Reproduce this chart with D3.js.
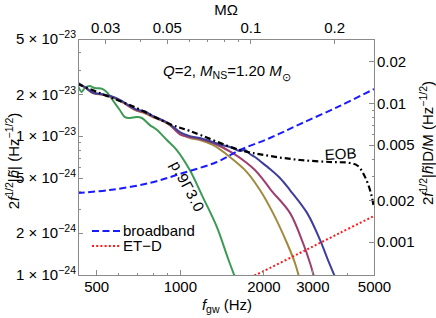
<!DOCTYPE html>
<html lang="en">
<head>
<meta charset="utf-8">
<title>NR vs EOB amplitude</title>
<script src="https://cdn.jsdelivr.net/npm/d3@7"></script>
<style>
  body { margin: 0; background: #fff; }
  svg text { font-family: "Liberation Sans", Arial, sans-serif; font-size: 15px; fill: #000; }
  .axis path, .axis line { stroke: #8a8a8a; fill: none; shape-rendering: crispEdges; }
  .axis text { font-size: 15px; }
</style>
</head>
<body>
<script>
// data: [frequency (Hz), 2 f^1/2 |h| (Hz^-1/2)]
var green = [[429,2.33e-23],[443,2.08e-23],[455,2.22e-23],[474,2.29e-23],[494,2.22e-23],[528,2.18e-23],
  [550,2.04e-23],[573,1.82e-23],[608,1.54e-23],[634,1.37e-23],[660,1.35e-23],[700,1.37e-23],[730,1.35e-23],
  [780,1.20e-23],[826,1.11e-23],[898,9.37e-24],[975,7.94e-24],[1086,5.70e-24],[1210,3.64e-24],[1359,2.22e-24],
  [1490,1.32e-24],[1578,0.97e-24]];
var gold = [[429,2.41e-23],[458,2.22e-23],[486,2.04e-23],[528,1.98e-23],[569,1.91e-23],[618,1.76e-23],
  [660,1.62e-23],[700,1.52e-23],[748,1.46e-23],[799,1.37e-23],[868,1.28e-23],[920,1.20e-23],[1000,1.05e-23],
  [1086,9.69e-24],[1181,9.37e-24],[1315,8.63e-24],[1514,7.07e-24],[1743,5.51e-24],[1943,4.09e-24],
  [2163,2.80e-24],[2430,1.70e-24],[2597,1.22e-24],[2685,0.97e-24]];
var magenta = [[429,2.42e-23],[458,2.23e-23],[486,2.05e-23],[528,1.99e-23],[569,1.92e-23],[618,1.78e-23],
  [660,1.63e-23],[700,1.53e-23],[748,1.48e-23],[799,1.38e-23],[868,1.29e-23],[920,1.21e-23],[1000,1.03e-23],
  [1086,9.85e-24],[1181,9.53e-24],[1315,8.92e-24],[1552,7.55e-24],[1743,6.40e-24],[1863,5.70e-24],
  [1975,4.99e-24],[2128,4.09e-24],[2491,2.80e-24],[2775,1.70e-24],[2942,1.22e-24],[3041,0.97e-24]];
var navy = [[429,2.42e-23],[458,2.23e-23],[486,2.06e-23],[528,2.00e-23],[569,1.93e-23],[618,1.79e-23],
  [660,1.65e-23],[700,1.55e-23],[748,1.51e-23],[799,1.40e-23],[868,1.30e-23],[920,1.22e-23],[1000,1.07e-23],
  [1086,1.00e-23],[1181,9.69e-24],[1282,9.22e-24],[1417,8.63e-24],[1514,8.35e-24],[1578,8.07e-24],
  [1645,7.81e-24],[1715,7.94e-24],[1788,7.43e-24],[1863,7.07e-24],[1943,6.62e-24],[2111,5.80e-24],
  [2293,4.99e-24],[2491,4.09e-24],[2870,2.80e-24],[3196,1.79e-24],[3415,1.28e-24],[3619,0.97e-24]];
var eob = [[429,2.37e-23],[515,2.04e-23],[700,1.59e-23],[920,1.22e-23],[1086,1.09e-23],[1645,7.94e-24],
  [2111,7.19e-24],[2707,6.73e-24],[3472,6.51e-24],[4100,6.40e-24],[4379,6.09e-24],[4604,5.25e-24],
  [4799,4.30e-24],[4920,3.58e-24],[5000,3.04e-24]];
var broadband = [[429,3.89e-24],[559,4.09e-24],[780,4.60e-24],[1025,5.42e-24],[1359,6.51e-24],[1645,7.94e-24],
  [2111,9.69e-24],[2707,1.22e-23],[3772,1.65e-23],[5000,2.18e-23]];
var etd = [[1800,0.96e-24],[2707,1.44e-24],[3772,2.01e-24],[5000,2.66e-24]];

var nrCurves = [green, gold, magenta, navy];
var nrColors = ["#3d9a55", "#a08a3c", "#9c3f6f", "#3e3e9a"];

var bottomTicks = [500, 1000, 2000, 3000, 5000];
var bottomMinor = [600, 700, 800, 900, 4000];
var topTicks = [0.03, 0.05, 0.1, 0.2];
var topMinor = [0.04, 0.06, 0.07, 0.08, 0.09];
var leftTicks = [1e-24, 2e-24, 5e-24, 1e-23, 2e-23, 5e-23];
var leftMant = ["1", "2", "5", "1", "2", "5"];
var leftExp = ["\u221224", "\u221224", "\u221224", "\u221223", "\u221223", "\u221223"];
var leftMinor = [3e-24, 4e-24, 6e-24, 7e-24, 8e-24, 9e-24, 3e-23, 4e-23];
var rightTicks = [0.001, 0.002, 0.005, 0.01, 0.02];
var rightMinor = [0.003, 0.004, 0.006, 0.007, 0.008, 0.009];

var mOmegaPerHz = 5.57e-5;   // pi*M, M = 3.6 Msun
var dOverM = 5.8e20;         // D/M

var w = 436, h = 318;
var pLeft = 78, pRight = 374, pTop = 39, pBottom = 275;

var x = d3.scaleLog().domain([430, 5000]).range([pLeft, pRight]);
var y = d3.scaleLog().domain([1e-24, 5e-23]).range([pBottom, pTop]);
var xTop = d3.scaleLog().domain([430 * mOmegaPerHz, 5000 * mOmegaPerHz]).range([pLeft, pRight]);
var yRight = d3.scaleLog().domain([1e-24 * dOverM, 5e-23 * dOverM]).range([pBottom, pTop]);

var svg = d3.select("body").append("svg").attr("width", w).attr("height", h);

svg.append("clipPath").attr("id", "plot")
  .append("rect").attr("x", pLeft).attr("y", pTop).attr("width", pRight - pLeft).attr("height", pBottom - pTop);

var line = d3.line()
  .x(function(d) { return x(d[0]); })
  .y(function(d) { return y(d[1]); })
  .curve(d3.curveCatmullRom.alpha(0.5));

var plot = svg.append("g").attr("clip-path", "url(#plot)");

nrCurves.forEach(function(c, i) {
  plot.append("path").datum(c)
    .attr("d", line)
    .attr("fill", "none")
    .attr("stroke", nrColors[i])
    .attr("stroke-width", 2);
});

plot.append("path").datum(broadband)
  .attr("d", line).attr("fill", "none")
  .attr("stroke", "#1a1aff").attr("stroke-width", 2)
  .attr("stroke-dasharray", "7,3.5");

plot.append("path").datum(etd)
  .attr("d", line).attr("fill", "none")
  .attr("stroke", "#ff1a1a").attr("stroke-width", 2)
  .attr("stroke-dasharray", "2,2.2");

plot.append("path").datum(eob)
  .attr("d", line).attr("fill", "none")
  .attr("stroke", "#000").attr("stroke-width", 2.2)
  .attr("stroke-dasharray", "6,3,1.8,3");

// axes (ticks point inward)
function minorAxis(axis, vals) {
  return axis.tickValues(vals).tickSizeInner(-2.5).tickSizeOuter(0).tickFormat("");
}

svg.append("g").attr("class", "axis").attr("transform", "translate(0," + pBottom + ")")
  .call(minorAxis(d3.axisBottom(x), bottomMinor));
svg.append("g").attr("class", "axis").attr("transform", "translate(0," + pBottom + ")")
  .call(d3.axisBottom(x).tickValues(bottomTicks).tickSizeInner(-5).tickSizeOuter(0).tickPadding(6)
    .tickFormat(d3.format("d")));

svg.append("g").attr("class", "axis").attr("transform", "translate(0," + pTop + ")")
  .call(minorAxis(d3.axisTop(xTop), topMinor));
svg.append("g").attr("class", "axis").attr("transform", "translate(0," + pTop + ")")
  .call(d3.axisTop(xTop).tickValues(topTicks).tickSizeInner(-5).tickSizeOuter(0).tickPadding(6)
    .tickFormat(function(d) { return String(d); }));

svg.append("g").attr("class", "axis").attr("transform", "translate(" + pLeft + ",0)")
  .call(minorAxis(d3.axisLeft(y), leftMinor));
var yAxisG = svg.append("g").attr("class", "axis").attr("transform", "translate(" + pLeft + ",0)")
  .call(d3.axisLeft(y).tickValues(leftTicks).tickSizeInner(-5).tickSizeOuter(0).tickPadding(2));
yAxisG.selectAll(".tick text").each(function(d, i) {
  var t = d3.select(this).text(null);
  t.append("tspan").text(leftMant[i] + " \u00d7 10");
  t.append("tspan").attr("font-size", "10.5px").attr("dy", "-6").text(leftExp[i]);
});

svg.append("g").attr("class", "axis").attr("transform", "translate(" + pRight + ",0)")
  .call(minorAxis(d3.axisRight(yRight), rightMinor));
svg.append("g").attr("class", "axis").attr("transform", "translate(" + pRight + ",0)")
  .call(d3.axisRight(yRight).tickValues(rightTicks).tickSizeInner(-5).tickSizeOuter(0).tickPadding(3)
    .tickFormat(function(d) { return String(d); }));

// axis titles
svg.append("text").attr("x", 226).attr("y", 15).attr("text-anchor", "middle").text("M\u03a9");

var xl = svg.append("text").attr("x", 227).attr("y", 310).attr("text-anchor", "middle");
xl.append("tspan").attr("font-style", "italic").text("f");
xl.append("tspan").attr("font-size", "10.5px").attr("dy", 3).text("gw");
xl.append("tspan").attr("dy", -3).text(" (Hz)");

var yl = svg.append("text").attr("transform", "translate(19,161) rotate(-90)").attr("text-anchor", "middle");
yl.append("tspan").text("2");
yl.append("tspan").attr("font-style", "italic").text("f");
yl.append("tspan").attr("font-size", "10.5px").attr("dy", -6).text("1/2");
yl.append("tspan").attr("dy", 6).text("|");
yl.append("tspan").attr("font-style", "italic").text("h\u0303");
yl.append("tspan").text("| (Hz");
yl.append("tspan").attr("font-size", "10.5px").attr("dy", -6).text("\u22121/2");
yl.append("tspan").attr("dy", 6).text(")");

var yr = svg.append("text").attr("transform", "translate(433,143) rotate(-90)").attr("text-anchor", "middle");
yr.append("tspan").text("2");
yr.append("tspan").attr("font-style", "italic").text("f");
yr.append("tspan").attr("font-size", "10.5px").attr("dy", -6).text("1/2");
yr.append("tspan").attr("dy", 6).text("|");
yr.append("tspan").attr("font-style", "italic").text("h\u0303");
yr.append("tspan").text("|D/M (Hz");
yr.append("tspan").attr("font-size", "10.5px").attr("dy", -6).text("\u22121/2");
yr.append("tspan").attr("dy", 6).text(")");

// annotations
var ann = svg.append("text").attr("x", 163).attr("y", 76);
ann.append("tspan").attr("font-style", "italic").text("Q");
ann.append("tspan").text("=2, ");
ann.append("tspan").attr("font-style", "italic").text("M");
ann.append("tspan").attr("font-size", "10.5px").attr("dy", 3).text("NS");
ann.append("tspan").attr("dy", -3).text("=1.20 ");
ann.append("tspan").attr("font-style", "italic").text("M");
ann.append("tspan").attr("font-size", "10.5px").attr("dy", 5).text("\u2299");

svg.append("text").attr("transform", "translate(325,160) rotate(-3)").text("EOB");

svg.append("text").attr("transform", "translate(183,189) rotate(62)")
  .attr("text-anchor", "middle").attr("font-size", "16px").attr("letter-spacing", "0.8px")
  .text("p.9\u03933.0");

// legend
svg.append("line").attr("x1", 92).attr("x2", 121).attr("y1", 231).attr("y2", 231)
  .attr("stroke", "#1a1aff").attr("stroke-width", 2).attr("stroke-dasharray", "7,3.5");
svg.append("text").attr("x", 123).attr("y", 236).text("broadband");
svg.append("line").attr("x1", 92).attr("x2", 121).attr("y1", 246).attr("y2", 246)
  .attr("stroke", "#ff1a1a").attr("stroke-width", 2).attr("stroke-dasharray", "2,2.2");
svg.append("text").attr("x", 123).attr("y", 251).text("ET\u2212D");
</script>
</body>
</html>
